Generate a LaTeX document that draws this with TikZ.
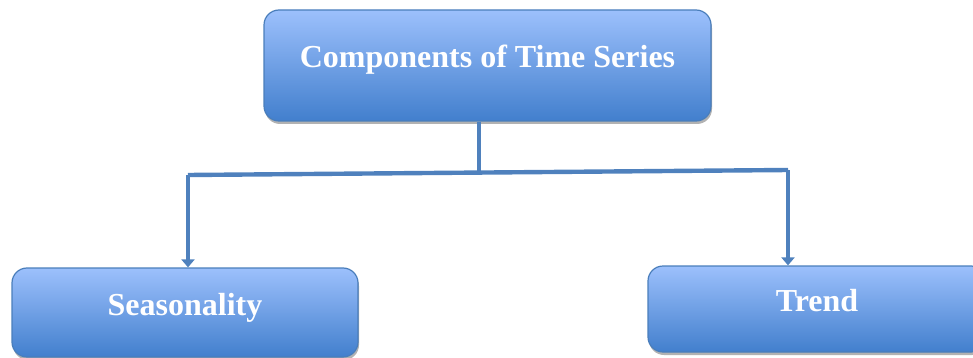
\documentclass[tikz,border=0pt]{standalone}
\usepackage{fontspec}
\setmainfont{Liberation Serif}
\usetikzlibrary{arrows.meta,shadows}

\definecolor{boxtop}{RGB}{156,192,252}
\definecolor{boxbottom}{RGB}{66,127,205}
\definecolor{boxline}{RGB}{74,126,187}
\definecolor{linkblue}{RGB}{79,129,189}

\begin{document}
\begin{tikzpicture}[
    x=1pt,
    y=-1pt,
    compbox/.style={
      draw=boxline, line width=1.2pt, rounded corners=15pt,
      top color=boxtop, bottom color=boxbottom,
      drop shadow={shadow xshift=1pt, shadow yshift=-3pt, fill=black, opacity=0.3},
      text=white, font=\bfseries\fontsize{32}{38}\selectfont,
      text height=22pt, text depth=17pt, inner sep=0pt
    },
    link/.style={draw=linkblue, line width=4.4pt},
    linkarrow/.style={link, -{Triangle[length=8pt,width=13pt]}}
]
\useasboundingbox (0,0) rectangle (973,358);

\node[compbox, minimum width=447pt, minimum height=111pt] (series) at (487.5,65.5) {Components of Time Series};
\node[compbox, minimum width=346pt, minimum height=89pt] (season) at (185,312.5) {Seasonality};
\node[compbox, minimum width=338pt, minimum height=86pt] (trend) at (817,309) {Trend};

% branch points
\coordinate (hub) at (479,173);
\coordinate (leftbend) at (188,175);
\coordinate (rightbend) at (788,170);

\draw[link] (hub |- series.south) -- (hub);
\draw[link] (leftbend) -- (rightbend);
\draw[linkarrow] (leftbend) -- (leftbend |- season.north);
\draw[linkarrow] (rightbend) -- (rightbend |- trend.north);
\end{tikzpicture}
\end{document}
